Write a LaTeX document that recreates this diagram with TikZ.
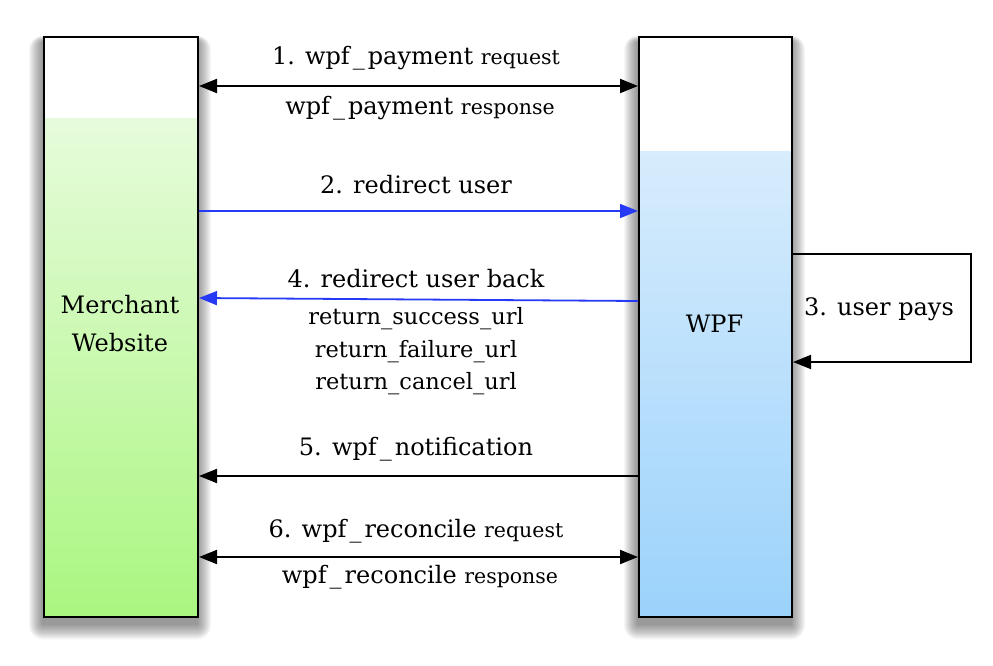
\documentclass[tikz,border=0pt]{standalone}
\usepackage{fontspec}
\setmainfont{DejaVu Serif}
\usetikzlibrary{arrows.meta}
\definecolor{arrowblue}{RGB}{38,58,245}
\definecolor{greentop}{RGB}{240,252,234}
\definecolor{greenbot}{RGB}{170,246,128}
\definecolor{bluetop}{RGB}{230,243,253}
\definecolor{bluebot}{RGB}{155,210,251}
\newcommand\lblfont{\fontsize{24}{28}\selectfont}
\newcommand\reqfont{\fontsize{20.5}{24}\selectfont}
\newcommand\urlfont{\fontsize{22.5}{26}\selectfont}
\newcommand\wus{\kern3pt\_\kern3pt}
\begin{document}
\begin{tikzpicture}[x=1pt,y=-1pt,
  box/.style={draw=black, line width=2pt, minimum width=154pt, minimum height=580pt,
    inner sep=0pt, anchor=north west, fill=white},
  tipA/.style={-{Triangle[length=18pt,width=14pt]}},
  tipB/.style={{Triangle[length=18pt,width=14pt]}-{Triangle[length=18pt,width=14pt]}},
  blackmsg/.style={line width=2pt, draw=black},
  bluemsg/.style={line width=1.8pt, draw=arrowblue},
  lab/.style={anchor=base, inner sep=0pt, font=\lblfont},
  urllab/.style={anchor=base, inner sep=0pt, font=\urlfont},
]
\useasboundingbox (0,0) rectangle (993,666);
% shadows
\foreach \i in {1,...,14}{
  \fill[black,opacity=0.035,rounded corners=\i pt] (43-\i,42-0.45*\i) rectangle (197+\i,624+1.1*\i);
  \fill[black,opacity=0.035,rounded corners=\i pt] (638-\i,42-0.45*\i) rectangle (791+\i,624+1.1*\i);
}
% boxes
\node[box, path picture={\shade[top color=greentop,bottom color=greenbot]
   ([yshift=-82pt]path picture bounding box.north west) rectangle (path picture bounding box.south east);}]
   (m) at (43,36) {};
\node[box, minimum width=153pt, path picture={\shade[top color=bluetop,bottom color=bluebot]
   ([yshift=-115pt]path picture bounding box.north west) rectangle (path picture bounding box.south east);}]
   (w) at (638,36) {};
\node[lab] (mt1) at (120,313) {Merchant};
\node[lab] (mt2) at (120,351) {Website};
\node[lab] (wt) at (714.5,332) {WPF};
% 1
\draw[blackmsg, tipB] (m.east |- 0,86) -- (w.west |- 0,86);
\node[lab] (l1) at (416,65) {1. wpf\wus payment {\reqfont request}};
\node[lab] (l1b) at (420,115) {wpf\wus payment {\reqfont response}};
% 2
\draw[bluemsg, tipA] (m.east |- 0,211) -- (w.west |- 0,211);
\node[lab] (l2) at (416,193) {2. redirect user};
% 3
\coordinate (lp1) at (971,254);
\coordinate (lp2) at (971,362);
\draw[line width=1.8pt, tipA] (w.east |- lp1) -- (lp1) -- (lp2) -- (w.east |- lp2);
\node[lab] (l3) at (879,315) {3. user pays};
% 4
\draw[bluemsg, tipA] (w.west |- 0,301) -- (m.east |- 0,298);
\node[lab] (l4) at (416,287) {4. redirect user back};
\node[urllab] (u1) at (416,324) {return\_success\_url};
\node[urllab] (u2) at (416,357) {return\_failure\_url};
\node[urllab] (u3) at (416,389) {return\_cancel\_url};
% 5
\draw[blackmsg, tipA] (w.west |- 0,476) -- (m.east |- 0,476);
\node[lab] (l5) at (416,455) {5. wpf\wus notification};
% 6
\draw[blackmsg, tipB] (m.east |- 0,557) -- (w.west |- 0,557);
\node[lab] (l6) at (416,537) {6. wpf\wus reconcile {\reqfont request}};
\node[lab] (l6b) at (420,583) {wpf\wus reconcile {\reqfont response}};
\end{tikzpicture}
\end{document}
